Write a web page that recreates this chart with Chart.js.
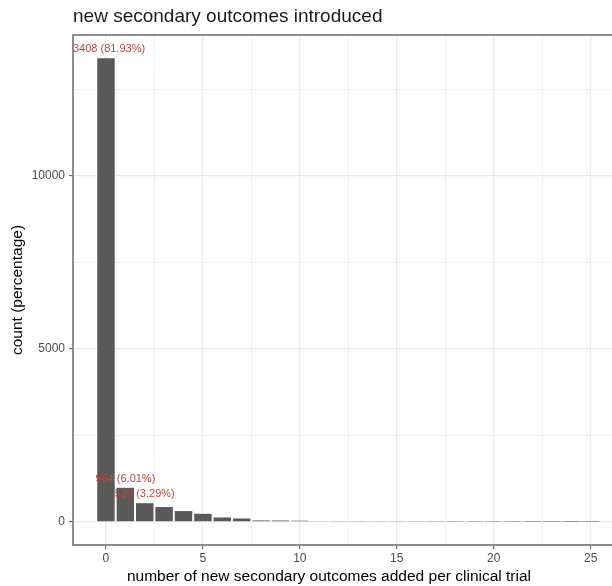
<!DOCTYPE html>
<html>
<head>
<meta charset="utf-8">
<script src="https://cdn.jsdelivr.net/npm/chart.js@4.4.0/dist/chart.umd.min.js"></script>
<style>
html,body{margin:0;padding:0;background:#ffffff;}
#wrap{width:612px;height:586px;position:relative;}
canvas{display:block;}
</style>
</head>
<body>
<div id="wrap"><canvas id="c" width="612" height="586"></canvas></div>
<script>
// ---- data ----
const titleText = 'new secondary outcomes introduced';
const xAxisTitle = 'number of new secondary outcomes added per clinical trial';
const yAxisTitle = 'count (percentage)';
const categories = [0,1,2,3,4,5,6,7,8,9,10,11,12,13,14,15,16,17,18,19,20,21,22,23,24,25];
const counts = [13408,984,539,427,310,233,125,96,40,38,32,14,12,12,22,12,11,10,9,8,7,6,3,3,2,2];
const labelledIndices = [0,1,2];
const xTickValues = [0,2.5,5,7.5,10,12.5,15,17.5,20,22.5,25];
const yTickValues = [0,2500,5000,7500,10000,12500];
const xRange = [-1.7, 26.1];
const yRange = [-670.4, 14078.4];

const total = counts.reduce((a,b)=>a+b,0);
const labelFor = i => counts[i] + ' (' + (counts[i]/total*100).toFixed(2) + '%)';

const FONT = "'Liberation Sans', Arial, Helvetica, sans-serif";
const BORDER_COLOR = '#8c8c8c';

const decorPlugin = {
  id: 'decor',
  afterDatasetsDraw(chart) {
    const {ctx, chartArea} = chart;
    const meta = chart.getDatasetMeta(0);
    ctx.save();
    ctx.beginPath();
    ctx.rect(chartArea.left, chartArea.top, chartArea.right - chartArea.left, chartArea.bottom - chartArea.top);
    ctx.clip();
    ctx.fillStyle = '#b9473e';
    ctx.font = '11px ' + FONT;
    ctx.textAlign = 'center';
    ctx.textBaseline = 'middle';
    labelledIndices.forEach(i => {
      const el = meta.data[i];
      ctx.fillText(labelFor(i), el.x, el.y - 9);
    });
    ctx.restore();
  },
  afterDraw(chart) {
    const {ctx, chartArea} = chart;
    ctx.save();
    // top panel border
    ctx.strokeStyle = BORDER_COLOR;
    ctx.lineWidth = 2;
    ctx.beginPath();
    ctx.moveTo(chartArea.left - 1, chartArea.top);
    ctx.lineTo(chartArea.right, chartArea.top);
    ctx.stroke();
    // title
    ctx.fillStyle = '#1a1a1a';
    ctx.font = '19px ' + FONT;
    ctx.textAlign = 'left';
    ctx.textBaseline = 'alphabetic';
    ctx.fillText(titleText, chartArea.left, 22);
    // x axis title
    ctx.fillStyle = '#000000';
    ctx.font = '15.5px ' + FONT;
    ctx.textAlign = 'center';
    ctx.textBaseline = 'middle';
    ctx.fillText(xAxisTitle, 329, 577);
    ctx.restore();
  }
};

new Chart(document.getElementById('c'), {
  type: 'bar',
  data: {
    datasets: [{
      data: categories.map((c, i) => ({x: c, y: counts[i]})),
      backgroundColor: '#595959',
      borderWidth: 0,
      barPercentage: 0.9,
      categoryPercentage: 1.0
    }]
  },
  options: {
    responsive: false,
    animation: false,
    devicePixelRatio: 1,
    layout: {padding: {top: 35, right: 0, bottom: 0, left: 0}},
    plugins: {legend: {display: false}, tooltip: {enabled: false}, title: {display: false}},
    scales: {
      x: {
        type: 'linear',
        min: xRange[0],
        max: xRange[1],
        offset: false,
        afterBuildTicks: s => { s.ticks = xTickValues.map(v => ({value: v})); },
        afterFit: s => { s.height = 41; },
        ticks: {
          autoSkip: false,
          maxRotation: 0,
          padding: 2,
          color: '#4d4d4d',
          font: {family: FONT, size: 12},
          callback: v => (v % 5 === 0 ? String(v) : '')
        },
        grid: {
          offset: false,
          color: '#ebebeb',
          lineWidth: ctx => (ctx.tick && ctx.tick.value % 5 === 0 ? 1.2 : 0.7),
          drawTicks: true,
          tickLength: 4,
          tickWidth: 1,
          tickColor: ctx => (ctx.tick && ctx.tick.value % 5 === 0 ? '#555555' : 'rgba(0,0,0,0)')
        },
        border: {display: true, color: BORDER_COLOR, width: 2},
        title: {display: false}
      },
      y: {
        type: 'linear',
        min: yRange[0],
        max: yRange[1],
        afterBuildTicks: s => { s.ticks = yTickValues.map(v => ({value: v})); },
        afterFit: s => { s.width = 73; },
        ticks: {
          autoSkip: false,
          padding: 4,
          color: '#4d4d4d',
          font: {family: FONT, size: 12},
          callback: v => (v % 5000 === 0 ? String(v) : '')
        },
        grid: {
          color: '#ebebeb',
          lineWidth: ctx => (ctx.tick && ctx.tick.value % 5000 === 0 ? 1.2 : 0.7),
          drawTicks: true,
          tickLength: 4,
          tickWidth: 1,
          tickColor: ctx => (ctx.tick && ctx.tick.value % 5000 === 0 ? '#555555' : 'rgba(0,0,0,0)')
        },
        border: {display: true, color: BORDER_COLOR, width: 2},
        title: {
          display: true,
          text: yAxisTitle,
          color: '#000000',
          font: {family: FONT, size: 15.5, lineHeight: 1.2},
          padding: {top: 8, bottom: 0}
        }
      }
    }
  },
  plugins: [decorPlugin]
});
</script>
</body>
</html>
